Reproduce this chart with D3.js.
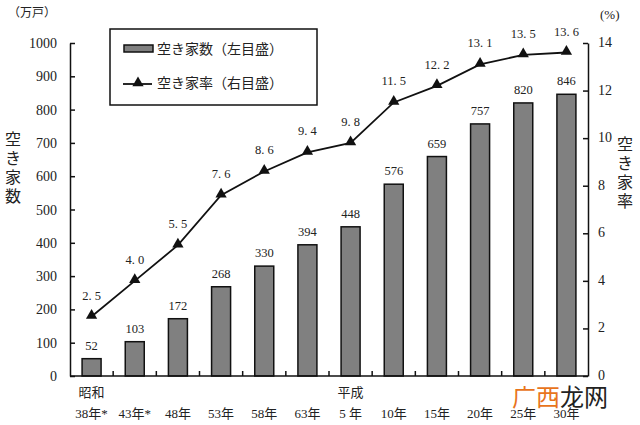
<!DOCTYPE html>
<html lang="ja">
<head>
<meta charset="UTF-8" />
<title>空き家数及び空き家率の推移</title>
<script src="https://d3js.org/d3.v7.min.js"></script>
<style>
  body { margin: 0; padding: 0; background: #fff; }
  svg { display: block; }
  text { font-family: "Liberation Serif", "DejaVu Serif", "Noto Sans CJK JP", serif; fill: #222; }
  .cjk { font-family: "Noto Sans CJK JP", sans-serif; }
</style>
</head>
<body>
<svg width="640" height="425"></svg>
<script>
  const eraLabels = ["昭和", "", "", "", "", "", "平成", "", "", "", "", ""];
  const yearLabels = ["38年*", "43年*", "48年", "53年", "58年", "63年", "5 年", "10年", "15年", "20年", "25年", "30年"];
  const vacantCount = [52, 103, 172, 268, 330, 394, 448, 576, 659, 757, 820, 846];
  const vacantRate = [2.5, 4.0, 5.5, 7.6, 8.6, 9.4, 9.8, 11.5, 12.2, 13.1, 13.5, 13.6];
  const leftTicks = [0, 100, 200, 300, 400, 500, 600, 700, 800, 900, 1000];
  const rightTicks = [0, 2, 4, 6, 8, 10, 12, 14];

  const svg = d3.select("svg");
  const plotL = 70, plotR = 588, plotT = 43, plotB = 376;

  const x = d3.scaleBand().domain(d3.range(yearLabels.length)).range([plotL, plotR]);
  const yL = d3.scaleLinear().domain([0, 1000]).range([plotB, plotT]);
  const yR = d3.scaleLinear().domain([0, 14]).range([plotB, plotT]);
  const barW = 19;
  const cx = i => x(i) + x.bandwidth() / 2;

  // bars
  svg.append("g").selectAll("rect")
    .data(vacantCount)
    .join("rect")
    .attr("x", (d, i) => cx(i) - barW / 2)
    .attr("y", d => yL(d))
    .attr("width", barW)
    .attr("height", d => plotB - yL(d))
    .attr("fill", "#808080")
    .attr("stroke", "#111")
    .attr("stroke-width", 1.5);

  svg.append("g").selectAll("text")
    .data(vacantCount)
    .join("text")
    .attr("x", (d, i) => cx(i))
    .attr("y", d => yL(d) - 9)
    .attr("text-anchor", "middle")
    .attr("font-size", 12.5)
    .text(d => d);

  // axes
  const leftAxis = d3.axisRight(yL).tickValues(leftTicks).tickSize(5).tickSizeOuter(0).tickFormat("");
  svg.append("g").attr("transform", `translate(${plotL},0)`).call(leftAxis)
    .call(g => g.selectAll("line, path").attr("stroke", "#111").attr("stroke-width", 1.5));
  svg.append("g").selectAll("text")
    .data(leftTicks).join("text")
    .attr("x", 57).attr("y", d => yL(d) + 5)
    .attr("text-anchor", "end").attr("font-size", 14)
    .text(d => d);

  const rightAxis = d3.axisLeft(yR).tickValues(rightTicks).tickSize(5).tickSizeOuter(0).tickFormat("");
  svg.append("g").attr("transform", `translate(${plotR},0)`).call(rightAxis)
    .call(g => g.selectAll("line, path").attr("stroke", "#111").attr("stroke-width", 1.5));
  svg.append("g").selectAll("text")
    .data(rightTicks).join("text")
    .attr("x", 598).attr("y", d => yR(d) + 4)
    .attr("font-size", 14)
    .text(d => d);

  // bottom axis with ticks between categories
  svg.append("line").attr("x1", plotL).attr("x2", plotR).attr("y1", plotB).attr("y2", plotB)
    .attr("stroke", "#111").attr("stroke-width", 1.5);
  svg.append("g").selectAll("line")
    .data(d3.range(1, yearLabels.length)).join("line")
    .attr("x1", i => x(i)).attr("x2", i => x(i))
    .attr("y1", plotB).attr("y2", plotB - 5)
    .attr("stroke", "#111").attr("stroke-width", 1.5);

  svg.append("g").selectAll("text")
    .data(yearLabels).join("text")
    .attr("x", (d, i) => cx(i))
    .attr("y", 418)
    .attr("text-anchor", "middle").attr("font-size", 13)
    .text(d => d);
  svg.append("g").selectAll("text")
    .data(eraLabels).join("text")
    .attr("x", (d, i) => cx(i))
    .attr("y", 397)
    .attr("text-anchor", "middle").attr("font-size", 13)
    .text(d => d);

  // rate line
  const line = d3.line()
    .x((d, i) => cx(i))
    .y(d => yR(d));
  svg.append("path").datum(vacantRate)
    .attr("d", line).attr("fill", "none")
    .attr("stroke", "#111").attr("stroke-width", 1.8);
  svg.append("g").selectAll("path")
    .data(vacantRate).join("path")
    .attr("d", d3.symbol(d3.symbolTriangle, 55))
    .attr("transform", (d, i) => `translate(${cx(i)},${yR(d) - 1})`)
    .attr("fill", "#111");
  svg.append("g").selectAll("text")
    .data(vacantRate).join("text")
    .attr("x", (d, i) => cx(i))
    .attr("y", d => yR(d) - 17)
    .attr("text-anchor", "middle").attr("font-size", 12.5)
    .text(d => d3.format(".1f")(d).replace(".", ". "));

  // axis titles
  svg.append("text").attr("class", "cjk").attr("x", 8).attr("y", 17)
    .attr("font-size", 12).text("（万戸）");
  svg.append("text").attr("x", 600).attr("y", 19)
    .attr("font-size", 13).text("(%)");
  svg.append("g").selectAll("text")
    .data("空き家数".split("")).join("text")
    .attr("class", "cjk")
    .attr("x", 13).attr("y", (d, i) => 145 + i * 19)
    .attr("text-anchor", "middle").attr("font-size", 16)
    .text(d => d);
  svg.append("g").selectAll("text")
    .data("空き家率".split("")).join("text")
    .attr("class", "cjk")
    .attr("x", 625).attr("y", (d, i) => 150 + i * 19)
    .attr("text-anchor", "middle").attr("font-size", 16)
    .text(d => d);

  // legend
  const lg = svg.append("g");
  lg.append("rect").attr("x", 110).attr("y", 29).attr("width", 207).attr("height", 76)
    .attr("fill", "#fff").attr("stroke", "#111").attr("stroke-width", 1.5);
  lg.append("rect").attr("x", 124).attr("y", 45).attr("width", 29).attr("height", 7)
    .attr("fill", "#808080").attr("stroke", "#111").attr("stroke-width", 1.5);
  lg.append("text").attr("class", "cjk").attr("x", 157).attr("y", 54)
    .attr("font-size", 14).text("空き家数（左目盛）");
  lg.append("line").attr("x1", 123).attr("x2", 152).attr("y1", 84).attr("y2", 84)
    .attr("stroke", "#111").attr("stroke-width", 1.8);
  lg.append("path").attr("d", d3.symbol(d3.symbolTriangle, 55))
    .attr("transform", "translate(138,83)").attr("fill", "#111");
  lg.append("text").attr("class", "cjk").attr("x", 157).attr("y", 88)
    .attr("font-size", 14).text("空き家率（右目盛）");

  // watermark
  const wm = svg.append("text").attr("class", "cjk").attr("x", 512).attr("y", 406).attr("font-size", 24);
  wm.append("tspan").style("fill", "#e8741c").text("广西");
  wm.append("tspan").style("fill", "#222").text("龙网");
</script>
</body>
</html>
